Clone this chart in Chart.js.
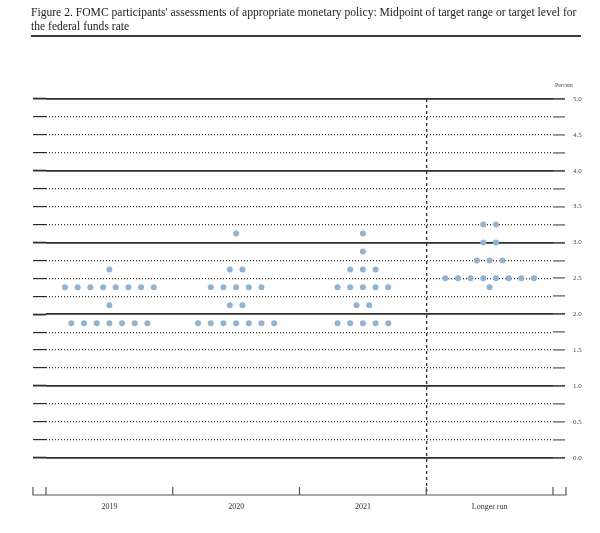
<!DOCTYPE html>
<html>
<head>
<meta charset="utf-8">
<script src="https://cdn.jsdelivr.net/npm/chart.js@4"></script>
<style>
  body { margin: 0; background: #fff; }
  #wrap { position: relative; width: 600px; height: 533px; }
  #chart { position: absolute; left: 0; top: 0; }
  #title {
    position: absolute; left: 31px; top: 6px; width: 550px;
    font-family: "Liberation Serif", serif; font-size: 11.6px; line-height: 14px;
    color: #222; white-space: nowrap;
    border-bottom: 2px solid #3a3a3a; padding-bottom: 1px;
  }
  #unit {
    position: absolute; left: 555px; top: 82px;
    font-family: "Liberation Serif", serif; font-size: 6px; color: #444;
  }
</style>
</head>
<body>
<div id="wrap">
  <canvas id="chart" width="600" height="533"></canvas>
  <div id="title">Figure 2. FOMC participants' assessments of appropriate monetary policy: Midpoint of target range or target level for<br>the federal funds rate</div>
  <div id="unit">Percent</div>
</div>
<script>
const categories = ['2019', '2020', '2021', 'Longer run'];

// rate -> number of participants, per column
const rates2019 = [2.625, 2.375, 2.125, 1.875];
const counts2019 = [1, 8, 1, 7];
const rates2020 = [3.125, 2.625, 2.375, 2.125, 1.875];
const counts2020 = [1, 2, 5, 2, 7];
const rates2021 = [3.125, 2.875, 2.625, 2.375, 2.125, 1.875];
const counts2021 = [1, 1, 3, 5, 2, 5];
const ratesLonger = [3.25, 3.0, 2.75, 2.5, 2.375];
const countsLonger = [2, 2, 3, 8, 1];

const yTicks = [0, 0.25, 0.5, 0.75, 1, 1.25, 1.5, 1.75, 2, 2.25, 2.5, 2.75, 3,
                3.25, 3.5, 3.75, 4, 4.25, 4.5, 4.75, 5];
const xBoundaries = [-0.5, 0.5, 1.5, 2.5, 3.5];
const dividerAt = 2.5;

const dotGap = 0.1; // horizontal spacing between dots of the same row

function dotsFor(col, rates, counts) {
    const pts = [];
    rates.forEach((r, i) => {
        const n = counts[i];
        for (let k = 0; k < n; k++) {
            pts.push({ x: col + (k - (n - 1) / 2) * dotGap, y: r });
        }
    });
    return pts;
}

const allRates = [rates2019, rates2020, rates2021, ratesLonger];
const allCounts = [counts2019, counts2020, counts2021, countsLonger];

const ink = '#2e2e2e';
const setTicks = vals => axis => { axis.ticks = vals.map(v => ({ value: v })); };
const isWhole = v => Math.abs(v - Math.round(v)) < 1e-9;

// bottom frame with upward ticks at column boundaries
const frame = {
    id: 'frame',
    afterDraw(chart) {
        const { ctx, chartArea, scales } = chart;
        const x = scales.x;
        const yb = chartArea.bottom;
        const l = chartArea.left - 13, r = chartArea.right + 13;
        ctx.save();
        ctx.strokeStyle = '#555';
        ctx.lineWidth = 1.2;
        ctx.beginPath();
        ctx.moveTo(l, yb - 8); ctx.lineTo(l, yb); ctx.lineTo(r, yb); ctx.lineTo(r, yb - 8);
        xBoundaries.forEach(v => {
            const px = x.getPixelForValue(v);
            ctx.moveTo(px, yb); ctx.lineTo(px, yb - 8);
        });
        ctx.stroke();
        ctx.restore();
    }
};

new Chart(document.getElementById('chart'), {
    type: 'scatter',
    data: {
        datasets: categories.map((c, i) => ({
            label: c,
            data: dotsFor(i, allRates[i], allCounts[i]),
            pointRadius: 3,
            pointHoverRadius: 3,
            backgroundColor: '#93b3d3',
            borderColor: '#93b3d3',
            borderWidth: 0
        }))
    },
    options: {
        responsive: false,
        animation: false,
        layout: { padding: { left: 33, right: 0, top: 99, bottom: 0 } },
        plugins: { legend: { display: false }, tooltip: { enabled: false } },
        scales: {
            x: {
                type: 'linear', position: 'bottom', min: -0.5, max: 3.5,
                afterBuildTicks: setTicks([0, 1, 2, 3]),
                afterFit: axis => { axis.height = 38; },
                grid: { display: false, drawTicks: false },
                border: { display: false },
                ticks: {
                    callback: v => categories[v],
                    color: '#333', padding: 7,
                    font: { family: 'Liberation Serif', size: 8 }
                }
            },
            xd: {
                type: 'linear', position: 'bottom', min: -0.5, max: 3.5,
                afterBuildTicks: setTicks([dividerAt]),
                afterFit: axis => { axis.height = 0; },
                grid: { color: ink, lineWidth: 1.3, drawTicks: false },
                border: { display: false, dash: [3, 3] },
                ticks: { display: false }
            },
            y: {
                position: 'left', min: -0.52, max: 5,
                afterBuildTicks: setTicks(yTicks),
                grid: {
                    color: c => isWhole(c.tick.value) ? 'rgba(0,0,0,0)' : ink,
                    lineWidth: 1.2,
                    tickColor: ink, tickLength: 13,
                    tickWidth: c => isWhole(c.tick.value) ? 1.8 : 1.2
                },
                border: { display: false, dash: [1, 2] },
                ticks: { display: false }
            },
            y2: {
                position: 'right', min: -0.52, max: 5,
                afterBuildTicks: setTicks(yTicks),
                afterFit: axis => { axis.width = 47; },
                grid: {
                    color: c => isWhole(c.tick.value) ? ink : 'rgba(0,0,0,0)',
                    lineWidth: 1.8,
                    tickColor: '#555', tickLength: 12,
                    tickWidth: c => isWhole(c.tick.value) ? 1.8 : 1.2
                },
                border: { display: false },
                ticks: {
                    callback: v => Math.abs(v * 2 - Math.round(v * 2)) < 1e-9 ? v.toFixed(1) : '',
                    color: '#444', padding: 8,
                    font: { family: 'Liberation Serif', size: 7 }
                }
            }
        }
    },
    plugins: [frame]
});
</script>
</body>
</html>
